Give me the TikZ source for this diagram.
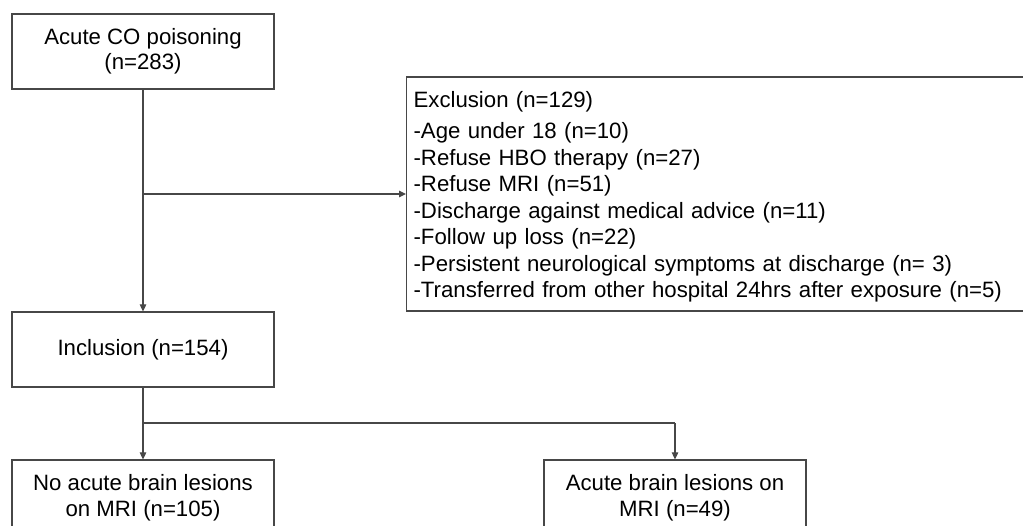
\documentclass[tikz,border=0pt]{standalone}
\usepackage{fontspec}
\setmainfont{Liberation Sans}
\usetikzlibrary{arrows.meta}
\begin{document}
\begin{tikzpicture}[x=1pt,y=-1pt,
  box/.style={draw=black!72, line width=1.2pt, rectangle, inner sep=0pt,
    minimum width=262pt, minimum height=75pt, align=center,
    font=\fontsize{22.2}{25.5}\selectfont},
  exbox/.style={draw=black!72, line width=1.2pt, rectangle, inner ysep=0pt, inner xsep=7pt,
    minimum width=624pt, minimum height=234pt, text width=610pt, align=left,
    font=\fontsize{22.2}{26.5}\selectfont},
  conn/.style={draw=black!72, line width=1.1pt},
  arr/.style={conn, -{Triangle[length=7pt,width=6.5pt]}}]
\useasboundingbox (0,0) rectangle (1023,525);
\clip (0,0) rectangle (1023,525);
\node[box] (top) at (143,51.5) {Acute CO poisoning\\(n=283)};
\node[exbox, anchor=west] (ex) at (406,194) {\rule{0pt}{22pt}Exclusion (n=129)\\[4.5pt]
-Age under 18 (n=10)\\
-Refuse HBO therapy (n=27)\\
-Refuse MRI (n=51)\\
-Discharge against medical advice (n=11)\\
-Follow up loss (n=22)\\
-Persistent neurological symptoms at discharge (n= 3)\\
-Transferred from other hospital 24hrs after exposure (n=5)};
\node[box] (inc) at (143,349.5) {Inclusion (n=154)};
\node[box] (noles) at (143,497.5) {No acute brain lesions\\on MRI (n=105)};
\node[box] (les) at (675,497.5) {Acute brain lesions on\\MRI (n=49)};
\coordinate (b1) at (top.south |- ex.west);
\coordinate (b2) at (inc.south |- 0,423);
\coordinate (b3) at (les.north |- 0,423);
\draw[arr] (top.south) -- (inc.north);
\draw[arr] (b1) -- (ex.west);
\draw[arr] (inc.south) -- (noles.north);
\draw[conn] (b2) -- (b3);
\draw[arr] (b3) -- (les.north);
\end{tikzpicture}
\end{document}
